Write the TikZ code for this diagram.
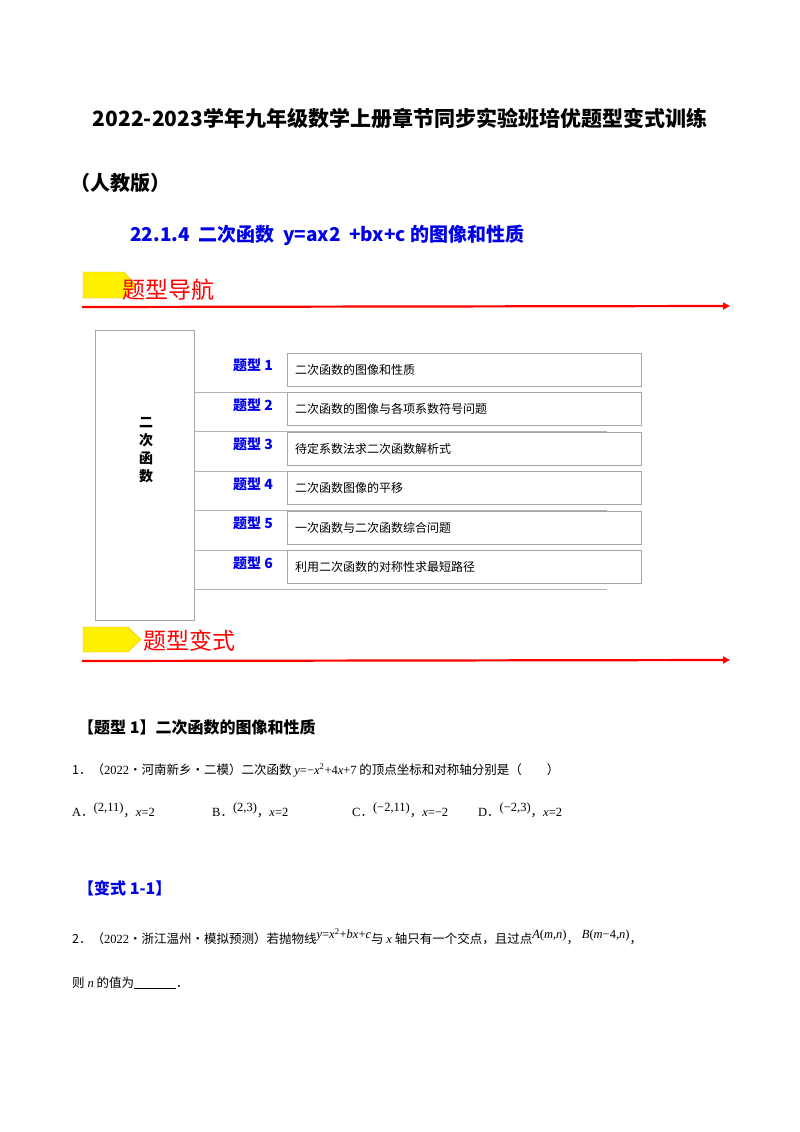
\documentclass[tikz,border=0pt]{standalone}
\usepackage{fontspec}
\setmainfont{Noto Sans CJK SC}
\newfontfamily\serif{Liberation Serif}
\usetikzlibrary{arrows.meta}
\definecolor{tblue}{RGB}{0,0,230}
\definecolor{tyellow}{RGB}{255,240,0}
\newcommand{\up}[1]{\raisebox{5pt}{#1}}
\tikzset{
  redarrow/.style={draw=red, line width=2.2pt, -{Triangle[length=7pt,width=7pt]}},
  flag/.style={fill=tyellow, draw=orange!60!yellow, line width=0.4pt},
  rowbox/.style={draw=gray!70, line width=0.6pt, minimum width=354pt, minimum height=33pt, anchor=west, inner sep=0pt},
  sep/.style={draw=gray!60, line width=0.8pt},
  lbl/.style={text=tblue, font=\bfseries\fontsize{14}{16}\selectfont, anchor=west, inner sep=0pt},
  itemtxt/.style={font=\fontsize{12}{14}\selectfont, anchor=west, inner sep=0pt},
  body/.style={font=\fontsize{12.5}{15}\selectfont, anchor=west, inner sep=0pt},
}
\begin{document}
\begin{tikzpicture}[x=1pt,y=-1pt]
\useasboundingbox (0,0) rectangle (800,1132);
\node[font=\bfseries\fontsize{21}{24}\selectfont, inner sep=0pt] (t1) at (400,118) {2022-2023学年九年级数学上册章节同步实验班培优题型变式训练};
\node[font=\bfseries\fontsize{20}{24}\selectfont, anchor=west, inner sep=0pt] (t2) at (70,183) {（人教版）};
\node[font=\bfseries\fontsize{19}{22}\selectfont, text=tblue, anchor=west, inner sep=0pt] (t3) at (130,235) {22.1.4\ \ 二次函数\ \ y=ax2\ \ +bx+c 的图像和性质};
% flag 1
\path[flag] (83,272) -- (124,272) -- (136,285) -- (124,298) -- (83,298) -- cycle;
\node[text=red, font=\fontsize{23}{26}\selectfont, anchor=west, inner sep=0pt] (h1) at (122,290) {题型导航};
\coordinate (a1s) at (82,307); \coordinate (a1e) at (730,306);
\draw[redarrow] (a1s) -- (a1e);
% left box
\node[draw=gray!70, line width=0.6pt, minimum width=99pt, minimum height=290pt, anchor=north west, inner sep=0pt] (lb) at (95,330) {};
\node[font=\bfseries\fontsize{14}{18}\selectfont, align=center, inner sep=0pt] (lt) at (146,450) {二\\次\\函\\数};
\foreach \i/\t in {1/二次函数的图像和性质,2/二次函数的图像与各项系数符号问题,3/待定系数法求二次函数解析式,4/二次函数图像的平移,5/一次函数与二次函数综合问题,6/利用二次函数的对称性求最短路径}{
  \pgfmathsetmacro{\yy}{369.5+39.5*(\i-1)}
  \node[lbl] (l\i) at (233,\yy-4) {题型 \i};
  \node[rowbox] (b\i) at (287,\yy) {};
  \node[itemtxt] (x\i) at (295,\yy) {\t};
  \pgfmathsetmacro{\ys}{392+39.5*(\i-1)}
  \coordinate (s\i a) at (194,\ys); \coordinate (s\i b) at (607,\ys);
  \draw[sep] (s\i a) -- (s\i b);
}
% flag 2
\path[flag] (83,627) -- (128,627) -- (141,639.5) -- (128,652) -- (83,652) -- cycle;
\node[text=red, font=\fontsize{23}{26}\selectfont, anchor=west, inner sep=0pt] (h2) at (143,641) {题型变式};
\coordinate (a2s) at (82,661); \coordinate (a2e) at (730,660);
\draw[redarrow] (a2s) -- (a2e);
% section
\node[font=\bfseries\fontsize{16}{19}\selectfont, anchor=west, inner sep=0pt] (sec) at (78,727) {【题型 1】二次函数的图像和性质};
\node[body] (q1) at (72,770) {1．（{\serif 2022}·河南新乡·二模）二次函数 {\serif\itshape y}{\serif =−\itshape x\textsuperscript{\upshape 2}\upshape +4\itshape x\upshape +7} 的顶点坐标和对称轴分别是（\qquad）};
\node[body] (oa) at (72,810) {{\serif A}．\up{\serif (2,11)}，{\serif\itshape x}{\serif =2}};
\node[body] (ob) at (212,810) {{\serif B}．\up{\serif (2,3)}，{\serif\itshape x}{\serif =2}};
\node[body] (oc) at (352,810) {{\serif C}．\up{\serif (−2,11)}，{\serif\itshape x}{\serif =−2}};
\node[body] (od) at (478,810) {{\serif D}．\up{\serif (−2,3)}，{\serif\itshape x}{\serif =2}};
\node[text=tblue, font=\bfseries\fontsize{16}{19}\selectfont, anchor=west, inner sep=0pt] (v1) at (78,888) {【变式 1-1】};
\node[body] (q2) at (72,937) {2．（{\serif 2022}·浙江温州·模拟预测）若抛物线\up{\serif\itshape y\upshape =\itshape x\textsuperscript{\upshape 2}\upshape +\itshape bx\upshape +\itshape c}与 {\serif\itshape x} 轴只有一个交点，且过点\up{\serif\itshape A\upshape (\itshape m\upshape ,\itshape n\upshape )}，\ \up{\serif\itshape B\upshape (\itshape m\upshape −4,\itshape n\upshape )}，};
\node[body] (q3) at (72,983) {则 {\serif\itshape n} 的值为\underline{\hspace{42pt}}．};
\end{tikzpicture}
\end{document}
